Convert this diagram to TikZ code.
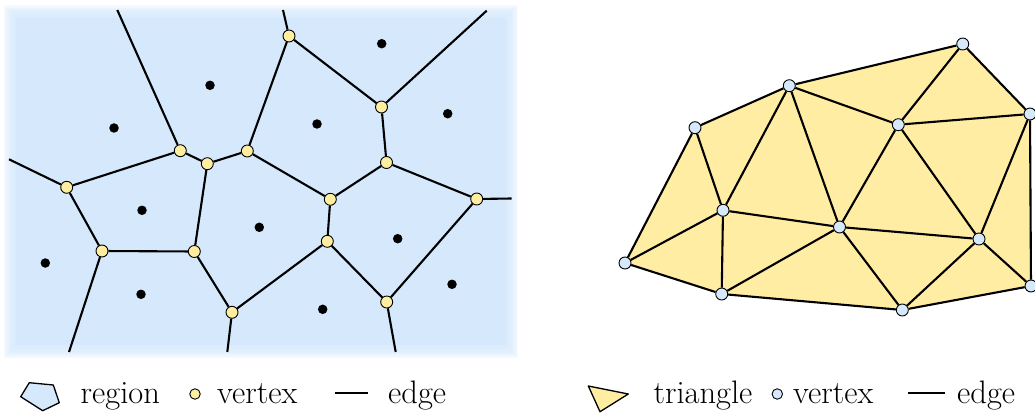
\documentclass[tikz,border=0pt]{standalone}
\definecolor{bgblue}{RGB}{214,233,252}
\definecolor{vyellow}{RGB}{255,238,160}
\definecolor{triyellow}{RGB}{255,237,163}
\pgfdeclarelayer{bg}
\pgfdeclarelayer{edges}
\pgfsetlayers{bg,edges,main}
\tikzset{
  edge/.style={line width=2.1pt, black},
  vtx/.style={circle, draw=black, line width=0.9pt, fill=vyellow, minimum size=12pt, inner sep=0pt},
  dvtx/.style={circle, draw=black, line width=0.9pt, fill=bgblue, minimum size=12pt, inner sep=0pt},
  site/.style={circle, fill=black, minimum size=9.5pt, inner sep=0pt},
  lab/.style={anchor=base west, inner sep=0pt, font=\fontsize{32.5}{38}\selectfont},
}
\begin{document}
\begin{tikzpicture}[x=1pt,y=-1pt]
\useasboundingbox (0,0) rectangle (1035,414);
% ---------- Voronoi background (soft edge) ----------
\begin{pgfonlayer}{bg}
\foreach \k in {0,...,9}
  \fill[bgblue, opacity=0.2] ({4+1.2*\k},{5+1.3*\k}) rectangle ({518-1.2*\k},{358-1.3*\k});
\fill[bgblue] (16,18) rectangle (506,345);
\end{pgfonlayer}
% Voronoi vertices
\node[vtx] (v1) at (289,36) {};
\node[vtx] (v2) at (381.5,107) {};
\node[vtx] (v3) at (386.5,162.5) {};
\node[vtx] (v4) at (180.3,150.7) {};
\node[vtx] (v5) at (207.3,163.7) {};
\node[vtx] (v6) at (247.3,151) {};
\node[vtx] (v7) at (66.7,187.3) {};
\node[vtx] (v8) at (102,251) {};
\node[vtx] (v9) at (194.3,251.5) {};
\node[vtx] (v10) at (232,312.3) {};
\node[vtx] (v11) at (330.3,199.3) {};
\node[vtx] (v12) at (327.3,241.3) {};
\node[vtx] (v13) at (386.7,302) {};
\node[vtx] (v14) at (476.7,199) {};
% free ends
\coordinate (e1) at (117.3,10);
\coordinate (e2) at (283,10);
\coordinate (e3) at (486.7,10.7);
\coordinate (e4) at (9,159.3);
\coordinate (e5) at (511.7,198.5);
\coordinate (e6) at (69,352);
\coordinate (e7) at (227.3,352);
\coordinate (e8) at (395.7,352);
% sites
\foreach \p/\q [count=\i] in {210/85.3, 114/128, 381.7/43.7, 317/124, 447.7/113.7, 142/210.3, 45.3/263, 141/294.3, 259.3/227.3, 397.7/238.7, 452/284.3, 322.7/309.3}
  \node[site] (s\i) at (\p,\q) {};
\begin{pgfonlayer}{edges}
\draw[edge] (e1) -- (v4);
\draw[edge] (e2) -- (v1);
\draw[edge] (e3) -- (v2);
\draw[edge] (e4) -- (v7);
\draw[edge] (e5) -- (v14);
\draw[edge] (e6) -- (v8);
\draw[edge] (e7) -- (v10);
\draw[edge] (e8) -- (v13);
\draw[edge] (v4) -- (v5);
\draw[edge] (v5) -- (v6);
\draw[edge] (v4) -- (v7);
\draw[edge] (v6) -- (v1);
\draw[edge] (v1) -- (v2);
\draw[edge] (v2) -- (v3);
\draw[edge] (v3) -- (v11);
\draw[edge] (v3) -- (v14);
\draw[edge] (v6) -- (v11);
\draw[edge] (v5) -- (v9);
\draw[edge] (v7) -- (v8);
\draw[edge] (v8) -- (v9);
\draw[edge] (v9) -- (v10);
\draw[edge] (v10) -- (v12);
\draw[edge] (v11) -- (v12);
\draw[edge] (v12) -- (v13);
\draw[edge] (v13) -- (v14);
\end{pgfonlayer}
% ---------- Delaunay ----------
\node[dvtx] (d1) at (789.3,85.7) {};
\node[dvtx] (d2) at (695,127.7) {};
\node[dvtx] (d3) at (962.7,44) {};
\node[dvtx] (d4) at (898.3,124.7) {};
\node[dvtx] (d5) at (1030,114) {};
\node[dvtx] (d6) at (723,210.3) {};
\node[dvtx] (d7) at (625,263) {};
\node[dvtx] (d8) at (721.7,294) {};
\node[dvtx] (d9) at (839.5,227) {};
\node[dvtx] (d10) at (979,239) {};
\node[dvtx] (d11) at (902.3,310) {};
\node[dvtx] (d12) at (1031,286) {};
\begin{pgfonlayer}{bg}
\fill[triyellow] (d7.center) -- (d2.center) -- (d1.center) -- (d3.center) -- (d5.center) -- (d12.center) -- (d11.center) -- (d8.center) -- cycle;
\end{pgfonlayer}
\begin{pgfonlayer}{edges}
\foreach \a/\b in {d7/d2, d2/d1, d1/d3, d3/d5, d5/d12, d12/d11, d11/d8, d8/d7,
  d7/d6, d6/d8, d2/d6, d6/d1, d1/d9, d1/d4, d4/d3, d4/d5, d4/d9, d4/d10, d5/d10,
  d6/d9, d8/d9, d9/d10, d9/d11, d10/d11, d10/d12}
  \draw[edge] (\a) -- (\b);
\end{pgfonlayer}
% ---------- Legends ----------
\draw[line width=1.3pt, fill=bgblue, line join=round] (29.3,382.7) -- (53.3,385) -- (59.3,402.7) -- (42.7,410.7) -- (20.7,396.7) -- cycle;
\node[lab] (lregion) at (80.5,403.3) {region};
\node[vtx, minimum size=10.5pt] (lv1) at (195,394) {};
\node[lab] (lvertex1) at (217,403.3) {vertex};
\coordinate (la1) at (335,392.7);
\coordinate (lb1) at (368.3,392.7);
\draw[edge, line width=1.6pt] (la1) -- (lb1);
\node[lab] (ledge1) at (388,403.3) {edge};
\draw[line width=1.3pt, fill=triyellow, line join=round] (588.3,386) -- (628.3,394) -- (600,411.7) -- cycle;
\node[lab] (ltriangle) at (653.3,403.3) {triangle};
\node[dvtx, minimum size=10.5pt] (lv2) at (777.3,394) {};
\node[lab] (lvertex2) at (793,403.3) {vertex};
\coordinate (la2) at (908,392.7);
\coordinate (lb2) at (945,392.7);
\draw[edge, line width=1.6pt] (la2) -- (lb2);
\node[lab] (ledge2) at (957,403.3) {edge};
\end{tikzpicture}
\end{document}
